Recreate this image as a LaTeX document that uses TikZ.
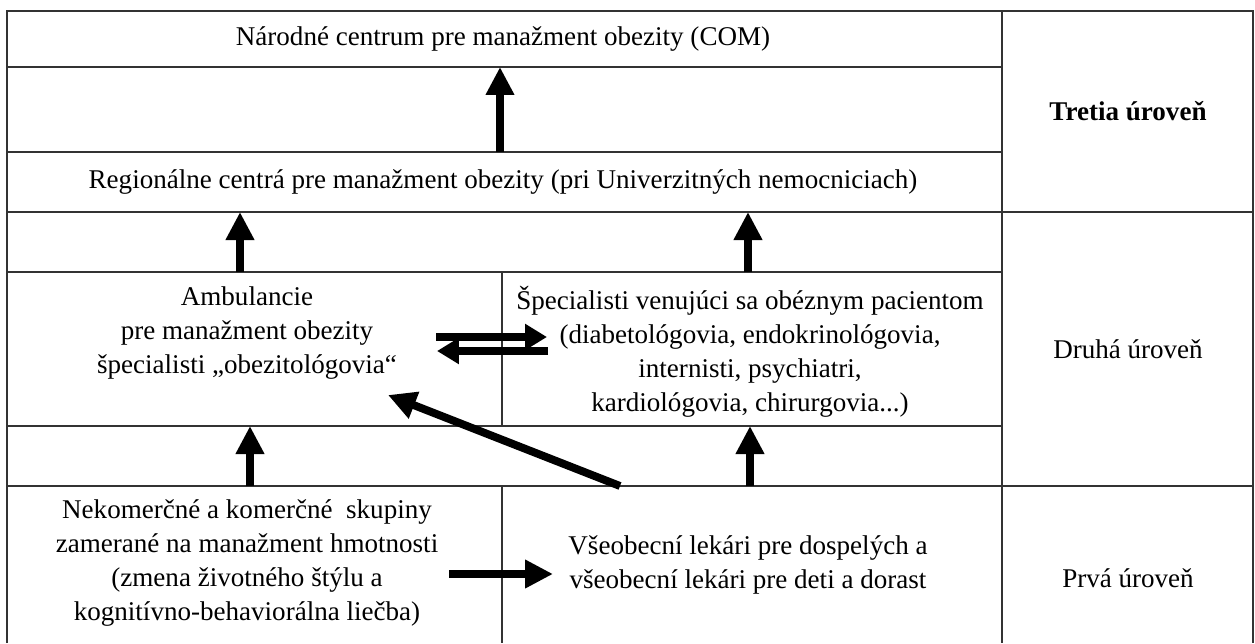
\documentclass[tikz,border=0pt]{standalone}
\usepackage{fontspec}
\setmainfont{Liberation Serif}
\usetikzlibrary{arrows.meta}

\begin{document}
\begin{tikzpicture}[x=0.02cm, y=-0.02cm, font=\fontsize{15.4}{19.4}\selectfont,
    txt/.style={align=center, inner sep=0pt},
    rule/.style={line width=1pt, black!80},
    fat/.style={line width=4.5pt, -{Triangle[length=0.56cm, width=0.54cm]}},
    slim/.style={line width=4pt, -{Triangle[length=0.44cm, width=0.5cm]}}]
      \useasboundingbox (0, 0) rectangle (1255, 643);
      % table
      \draw[rule] (7, 643) -- (7, 11) -- (1253, 11) -- (1253, 643);
      \draw[rule] (1002, 11) -- (1002, 643);
      \draw[rule] (7, 67) -- (1002, 67) (7, 152) -- (1002, 152);
      \draw[rule] (7, 212) -- (1253, 212) (7, 486) -- (1253, 486);
      \draw[rule] (7, 272) -- (1002, 272) (7, 426) -- (1002, 426);
      \draw[rule] (502, 272) -- (502, 426) (502, 486) -- (502, 643);
      % texts
      \node[txt] (com) at (503, 39) {Národné centrum pre manažment obezity (COM)};
      \node[txt] (reg) at (503, 182) {Regionálne centrá pre manažment obezity (pri Univerzitných nemocniciach)};
      \node[txt, anchor=north] (amb) at (247, 286) {Ambulancie\\ pre manažment obezity\\ špecialisti „obezitológovia“};
      \node[txt, anchor=north] (spec) at (750, 286) {Špecialisti venujúci sa obéznym pacientom\\ (diabetológovia, endokrinológovia,\\ internisti, psychiatri,\\ kardiológovia, chirurgovia...)};
      \node[txt] (nek) at (247, 563) {Nekomerčné a komerčné~ skupiny\\ zamerané na manažment hmotnosti\\ (zmena životného štýlu a\\ kognitívno-behaviorálna liečba)};
      \node[txt] (vseob) at (748, 565) {Všeobecní lekári pre dospelých a\\ všeobecní lekári pre deti a dorast};
      \node[txt] (l3) at (1128, 111) {\textbf{Tretia úroveň}};
      \node[txt] (l2) at (1128, 349) {Druhá úroveň};
      \node[txt] (l1) at (1128, 578) {Prvá úroveň};
      % arrow ends
      \coordinate (c1) at (500, 152); \coordinate (c2) at (500, 67);
      \coordinate (r1) at (240, 272); \coordinate (r2) at (240, 212);
      \coordinate (r3) at (748, 272); \coordinate (r4) at (748, 212);
      \coordinate (s1) at (250, 486); \coordinate (s2) at (250, 426);
      \coordinate (s3) at (750, 486); \coordinate (s4) at (750, 426);
      \coordinate (d1) at (436, 337); \coordinate (d2) at (547, 337);
      \coordinate (d3) at (548, 351); \coordinate (d4) at (437, 351);
      \coordinate (v1) at (449, 574); \coordinate (v2) at (553, 574);
      \coordinate (g1) at (620, 486); \coordinate (g2) at (388, 395);
      \draw[fat] (c1) -- (c2);
      \draw[fat] (r1) -- (r2);
      \draw[fat] (r3) -- (r4);
      \draw[fat] (s1) -- (s2);
      \draw[fat] (s3) -- (s4);
      \draw[fat] (v1) -- (v2);
      \draw[fat] (g1) -- (g2);
      \draw[slim] (d1) -- (d2);
      \draw[slim] (d3) -- (d4);
    \end{tikzpicture}
\end{document}
